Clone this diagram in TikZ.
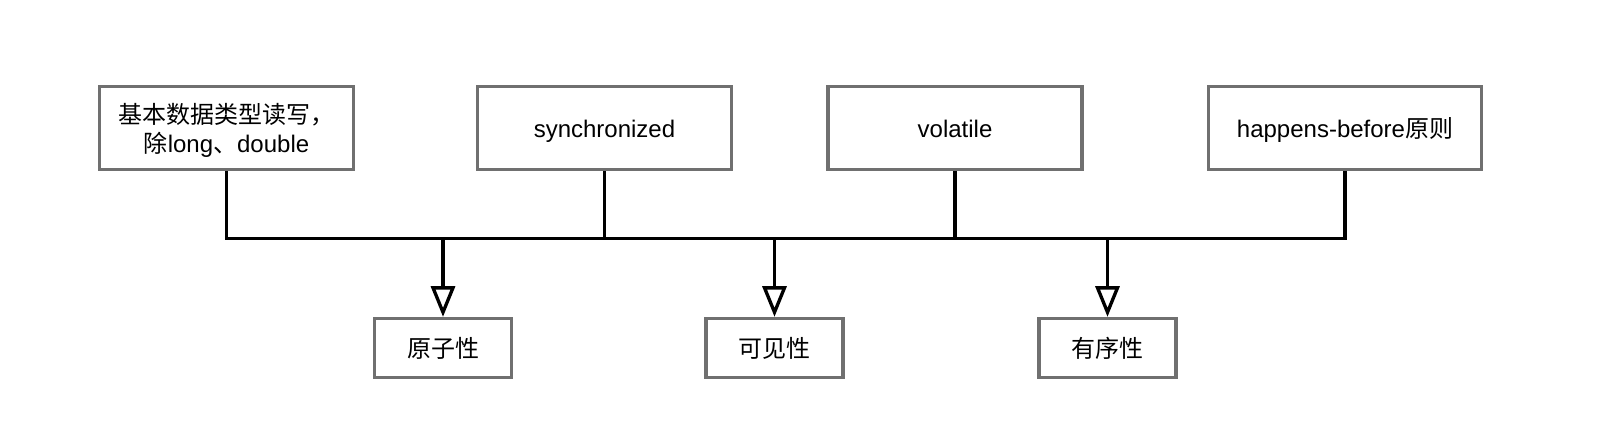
\documentclass[tikz,border=0pt]{standalone}
\usepackage{fontspec}
\setmainfont{Liberation Sans}
\newfontfamily\cjk{Noto Sans CJK SC}
\usetikzlibrary{arrows.meta}
\definecolor{boxgray}{RGB}{112,112,112}
\begin{document}
\begin{tikzpicture}[x=0.75pt,y=-0.75pt,
  box/.style={draw=boxgray, line width=2.5pt, fill=white, inner sep=0pt,
    font=\fontsize{18}{21.6}\selectfont, align=center, text=black,
    text height=14.55pt, text depth=0pt},
  topbox/.style={box, minimum width=190.5pt, minimum height=62.25pt},
  botbox/.style={box, minimum width=102.75pt, minimum height=44.25pt},
  wire/.style={line width=2.5pt, black},
  arr/.style={wire, -{Triangle[open, length=23pt, width=18pt]}, shorten >=0pt}]
\useasboundingbox (0,0) rectangle (1598,442);
\fill[white] (0,0) rectangle (1598,442);

\node[topbox, text height=36.15pt, text depth=0pt] (b1) at (226.5,128) {{\cjk 基本数据类型读写，}\\{\cjk 除}long{\cjk 、}double};
\node[topbox] (b2) at (604.5,128) {synchronized};
\node[topbox] (b3) at (955,128) {volatile};
\node[topbox, minimum width=204.75pt] (b4) at (1345,128) {happens-before{\cjk 原则}};

\node[botbox] (c1) at (443,348) {\cjk 原子性};
\node[botbox] (c2) at (774.5,348) {\cjk 可见性};
\node[botbox] (c3) at (1107.5,348) {\cjk 有序性};

\coordinate (bus) at (0,238.5);

\draw[wire] (b1.south) -- (b1.south |- bus) -- (b4.south |- bus) -- (b4.south);
\draw[wire] (b2.south) -- (b2.south |- bus);
\draw[wire] (b3.south) -- (b3.south |- bus);

\draw[arr] (c1.north |- bus) -- (c1.north);
\draw[arr] (c2.north |- bus) -- (c2.north);
\draw[arr] (c3.north |- bus) -- (c3.north);
\end{tikzpicture}
\end{document}
